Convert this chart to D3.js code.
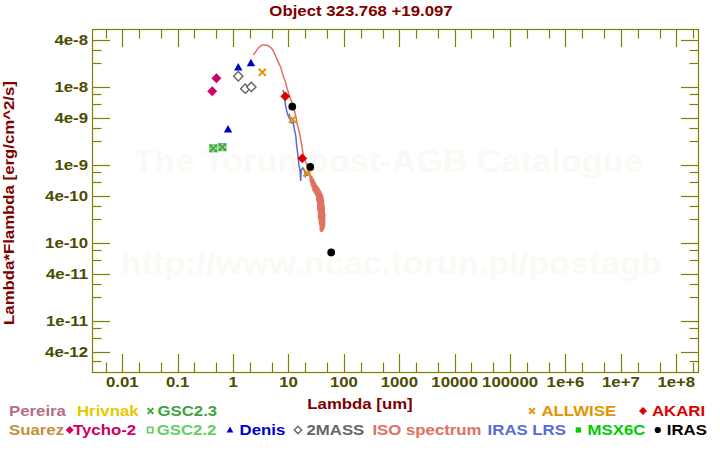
<!DOCTYPE html>
<html>
<head>
<meta charset="utf-8">
<script src="https://cdn.jsdelivr.net/npm/d3@7/dist/d3.min.js"></script>
<style>
  html, body { margin: 0; padding: 0; background: #ffffff; }
  svg { display: block; }
  text { font-family: "Liberation Sans", Arial, Helvetica, sans-serif; font-weight: bold; }
</style>
</head>
<body>
<div id="chart"></div>
<script>
// ---------------- DATA ----------------
const chartTitle = "Object 323.768 +19.097";
const xAxisTitle = "Lambda [um]";
const yAxisTitle = "Lambda*Flambda [erg/cm^2/s]";

const xTickValues = [0.01, 0.1, 1, 10, 100, 1000, 10000, 100000, 1e6, 1e7, 1e8];
const xTickLabels = ["0.01", "0.1", "1", "10", "100", "1000", "10000", "100000", "1e+6", "1e+7", "1e+8"];
const yTickValues = [4e-8, 1e-8, 4e-9, 1e-9, 4e-10, 1e-10, 4e-11, 1e-11, 4e-12];
const yTickLabels = ["4e-8", "1e-8", "4e-9", "1e-9", "4e-10", "1e-10", "4e-11", "1e-11", "4e-12"];

// photometry (wavelength in um, lambda*F_lambda in erg/cm^2/s)
const tycho2Lambda = [0.42, 0.50];
const tycho2Flux   = [8.8e-9, 1.29e-8];
const gsc22Lambda  = [0.44, 0.64];
const gsc22Flux    = [1.63e-9, 1.69e-9];
const gsc23Lambda  = [0.44, 0.64];
const gsc23Flux    = [1.63e-9, 1.69e-9];
const denisLambda  = [0.81, 1.24, 2.1];
const denisFlux    = [2.85e-9, 1.78e-8, 2.01e-8];
const twoMassLambda = [1.24, 1.66, 2.13];
const twoMassFlux   = [1.37e-8, 9.5e-9, 1.0e-8];
const allwiseLambda = [3.36, 11.9, 21.6];
const allwiseFlux   = [1.54e-8, 3.84e-9, 7.9e-10];
const akariLambda  = [8.75, 17.7];
const akariFlux    = [7.57e-9, 1.21e-9];
const irasLambda   = [11.7, 24.7, 59];
const irasFlux     = [5.6e-9, 9.4e-10, 7.5e-11];

// ISO spectrum
const isoLambda = [2.32, 2.48, 2.65, 2.83, 3.03, 3.28, 3.50, 3.80, 4.15, 4.51, 4.97, 5.31, 5.68, 5.94,
  6.30, 6.70, 7.23, 7.60, 8.00, 8.30, 8.65, 9.00, 9.40, 9.90, 10.4, 10.9, 11.4, 12.0, 12.5, 13.1,
  13.7, 14.4, 15.2, 16.1, 17.0, 18.0, 18.9, 19.8, 20.6, 21.5, 22.6, 23.7, 24.3, 24.8, 25.3, 25.8,
  26.3, 26.8, 27.3, 27.8, 28.4, 29.0, 29.6, 30.2, 30.8, 31.4, 32.0, 32.6, 33.2, 33.8, 34.4, 35.0,
  35.6, 36.2, 36.8, 37.4, 38.0, 38.6, 39.2, 39.8, 40.4, 41.0, 41.6, 42.2, 42.8, 43.4, 44.0, 44.6, 45.2];
const isoFlux = [2.56e-8, 2.75e-8, 2.92e-8, 3.13e-8, 3.28e-8, 3.42e-8, 3.45e-8, 3.46e-8, 3.42e-8, 3.28e-8,
  3.13e-8, 2.90e-8, 2.64e-8, 2.44e-8, 2.22e-8, 2.00e-8, 1.79e-8, 1.58e-8, 1.40e-8, 1.30e-8, 1.22e-8,
  1.08e-8, 9.6e-9, 8.7e-9, 7.7e-9, 7.0e-9, 6.45e-9, 5.6e-9, 5.1e-9, 4.67e-9, 4.0e-9, 3.3e-9, 2.85e-9,
  2.4e-9, 1.95e-9, 1.5e-9, 1.3e-9, 1.15e-9, 1.08e-9, 1.0e-9, 9.8e-10, 9.5e-10,
  7.6e-10, 6.0e-10, 7.4e-10, 5.4e-10, 7.2e-10, 5.0e-10, 6.8e-10, 4.6e-10, 6.6e-10, 4.4e-10, 6.2e-10,
  4.2e-10, 5.8e-10, 4.0e-10, 5.6e-10, 3.4e-10, 5.4e-10, 2.6e-10, 5.2e-10, 2.0e-10, 5.0e-10, 1.7e-10,
  4.8e-10, 1.45e-10, 4.6e-10, 1.38e-10, 4.4e-10, 1.38e-10, 4.2e-10, 1.4e-10, 4.0e-10, 1.45e-10,
  3.6e-10, 1.5e-10, 3.0e-10, 1.6e-10, 2.4e-10];

// IRAS LRS spectrum
const lrsLambda = [7.9, 8.3, 8.6, 8.8, 9.2, 9.6, 10.1, 10.4, 10.8, 11.4, 12.2, 12.6, 13.1, 13.6, 14.0,
  14.4, 15.0, 15.4, 16.1, 16.6, 17.0, 18.2, 19.3, 20.3, 21.3, 22.0];
const lrsFlux = [9.1e-9, 8.3e-9, 7.4e-9, 5.85e-9, 5.05e-9, 4.5e-9, 4.1e-9, 4.35e-9, 3.76e-9, 3.44e-9,
  3.54e-9, 2.96e-9, 2.64e-9, 2.28e-9, 1.8e-9, 1.55e-9, 1.22e-9, 9.9e-10, 8.6e-10, 6.2e-10, 8.6e-10,
  9.1e-10, 8.6e-10, 7.2e-10, 7.85e-10, 7.2e-10];

// legend
const legendNames  = ["Pereira", "Hrivnak", "GSC2.3", "ALLWISE", "AKARI",
                      "Suarez", "Tycho-2", "GSC2.2", "Denis", "2MASS", "ISO spectrum", "IRAS LRS", "MSX6C", "IRAS"];
const legendColors = ["#b0708a", "#e8c800", "#3fa43f", "#e39400", "#dd0000",
                      "#c48f3c", "#cc0066", "#66cc66", "#0000cc", "#666666", "#e07060", "#5a6ad6", "#00cc00", "#000000"];
const legendSymbols = ["none", "none", "x", "x", "diamond",
                       "none", "diamond", "osquare", "triangle", "odiamond", "none", "none", "square", "circle"];

const watermark1 = "The Torun post-AGB Catalogue";
const watermark2 = "http://www.ncac.torun.pl/postagb";

// ---------------- LAYOUT ----------------
const W = 720, H = 450;
const plot = { left: 92, right: 699, top: 29, bottom: 372 };
const FONT = 15, STRETCH = 1.12;
const titleColor = "#800000", tickLabelColor = "#4c4c00", axisColor = "#808000";

const svg = d3.select("#chart").append("svg").attr("width", W).attr("height", H);

const x = d3.scaleLog().domain([Math.pow(10, -2.547), Math.pow(10, 8.41)]).range([plot.left, plot.right]);
const y = d3.scaleLog().domain([Math.pow(10, -11.658), Math.pow(10, -7.257)]).range([plot.bottom, plot.top]);

function addText(g, tx, ty, str, anchor, color, size, rot) {
  return g.append("text")
    .attr("transform", `translate(${tx},${ty})` + (rot ? ` rotate(${rot})` : "") + ` scale(${STRETCH},1)`)
    .attr("text-anchor", anchor)
    .attr("fill", color)
    .style("font-size", (size || FONT) + "px")
    .text(str);
}

// watermark
addText(svg, 388, 172, watermark1, "middle", "#faf9f4", 30.6);
addText(svg, 391, 274, watermark2, "middle", "#faf9f4", 30.6);

// title
addText(svg, 361, 16, chartTitle, "middle", titleColor);

// frame
svg.append("rect")
  .attr("x", plot.left + 0.5).attr("y", plot.top + 0.5)
  .attr("width", plot.right - plot.left - 1).attr("height", plot.bottom - plot.top)
  .attr("fill", "none").attr("stroke", axisColor).attr("stroke-width", 1.2);

// ticks
const tickG = svg.append("g").attr("stroke", axisColor).attr("stroke-width", 1.2);
const [xl0, xl1] = x.domain().map(Math.log10);
const xMinor = [];
for (let e = Math.floor(xl0); e <= Math.ceil(xl1); e++) {
  [1, 2, 5].forEach(m => {
    const v = m * Math.pow(10, e);
    if (v >= x.domain()[0] && v <= x.domain()[1]) xMinor.push({ v, major: m === 1 });
  });
}
xMinor.forEach(d => {
  const px = Math.round(x(d.v)) + 0.5;
  const len = d.major ? 18 : 9.5;
  tickG.append("line").attr("x1", px).attr("x2", px).attr("y1", plot.bottom).attr("y2", plot.bottom - len);
  tickG.append("line").attr("x1", px).attr("x2", px).attr("y1", plot.top).attr("y2", plot.top + len);
});
const [yl0, yl1] = y.domain().map(Math.log10);
const yMinor = [];
for (let e = Math.floor(yl0); e <= Math.ceil(yl1); e++) {
  [1, 2, 3, 4, 6, 8].forEach(m => {
    const v = m * Math.pow(10, e);
    if (v >= y.domain()[0] && v <= y.domain()[1]) yMinor.push({ v, major: m === 1 || m === 4 });
  });
}
yMinor.forEach(d => {
  const py = Math.round(y(d.v)) + 0.5;
  const len = d.major ? 18 : 9.5;
  tickG.append("line").attr("x1", plot.left).attr("x2", plot.left + len).attr("y1", py).attr("y2", py);
  tickG.append("line").attr("x1", plot.right).attr("x2", plot.right - len).attr("y1", py).attr("y2", py);
});

// tick labels
xTickValues.forEach((v, i) => addText(svg, x(v), 387, xTickLabels[i], "middle", tickLabelColor));
yTickValues.forEach((v, i) => addText(svg, 88, y(v) + 5, yTickLabels[i], "end", tickLabelColor));

// axis titles
addText(svg, 360, 409, xAxisTitle, "middle", titleColor);
addText(svg, 14, 203, yAxisTitle, "middle", titleColor, FONT, -90);

// ---------------- SYMBOLS ----------------
function drawSymbol(g, type, cx, cy, color, s) {
  s = s || 1;
  if (type === "diamond" || type === "odiamond") {
    const r = 4.7 * s;
    g.append("path").attr("d", `M${cx},${cy - r}L${cx + r},${cy}L${cx},${cy + r}L${cx - r},${cy}Z`)
      .attr("fill", type === "diamond" ? color : "#fff")
      .attr("stroke", color).attr("stroke-width", type === "diamond" ? 0.5 : 1.4);
  } else if (type === "triangle") {
    const hw = 4.2 * s;
    g.append("path").attr("d", `M${cx},${cy - 4.5 * s}L${cx + hw},${cy + 3 * s}L${cx - hw},${cy + 3 * s}Z`)
      .attr("fill", color);
  } else if (type === "x") {
    const r = 3.6 * s;
    g.append("path").attr("d", `M${cx - r},${cy - r}L${cx + r},${cy + r}M${cx - r},${cy + r}L${cx + r},${cy - r}`)
      .attr("stroke", color).attr("stroke-width", 2).attr("fill", "none");
  } else if (type === "osquare") {
    const r = 3.3 * s;
    g.append("rect").attr("x", cx - r).attr("y", cy - r).attr("width", 2 * r).attr("height", 2 * r)
      .attr("fill", "none").attr("stroke", color).attr("stroke-width", 1.6);
  } else if (type === "square") {
    const r = 3.3 * s;
    g.append("rect").attr("x", cx - r).attr("y", cy - r).attr("width", 2 * r).attr("height", 2 * r)
      .attr("fill", color);
  } else if (type === "circle") {
    g.append("circle").attr("cx", cx).attr("cy", cy).attr("r", 3.9 * s).attr("fill", color);
  }
}

// ---------------- SPECTRA ----------------
const plotG = svg.append("g");
const line = d3.line().x(d => x(d[0])).y(d => y(d[1]));
const lrsData = lrsLambda.map((l, i) => [l, lrsFlux[i]]);
const isoData = isoLambda.map((l, i) => [l, isoFlux[i]]);
plotG.append("path").datum(lrsData).attr("d", line)
  .attr("fill", "none").attr("stroke", legendColors[11]).attr("stroke-width", 1.5);
plotG.append("path").datum(isoData).attr("d", line)
  .attr("fill", "none").attr("stroke", legendColors[10]).attr("stroke-width", 1.5);

// ---------------- PHOTOMETRY ----------------
const photSeries = [
  { lam: gsc22Lambda, flux: gsc22Flux, idx: 7 },
  { lam: gsc23Lambda, flux: gsc23Flux, idx: 2 },
  { lam: tycho2Lambda, flux: tycho2Flux, idx: 6 },
  { lam: denisLambda, flux: denisFlux, idx: 8 },
  { lam: twoMassLambda, flux: twoMassFlux, idx: 9 },
  { lam: allwiseLambda, flux: allwiseFlux, idx: 3 },
  { lam: akariLambda, flux: akariFlux, idx: 4 },
  { lam: irasLambda, flux: irasFlux, idx: 13 }
];
photSeries.forEach(s => {
  s.lam.forEach((l, i) => {
    drawSymbol(plotG, legendSymbols[s.idx], x(l), y(s.flux[i]), legendColors[s.idx], 1);
  });
});

// ---------------- LEGEND ----------------
const legendLayout = [
  { idx: 0, tx: 9, row: 0 }, { idx: 1, tx: 77, row: 0 }, { idx: 2, mx: 150.5, tx: 157.5, row: 0 },
  { idx: 3, mx: 532, tx: 541.5, row: 0 }, { idx: 4, mx: 643, tx: 652, row: 0 },
  { idx: 5, tx: 9, row: 1 }, { idx: 6, mx: 69.7, tx: 73, row: 1 }, { idx: 7, mx: 150.2, tx: 156.7, row: 1 },
  { idx: 8, mx: 230, tx: 239.6, row: 1 }, { idx: 9, mx: 298, tx: 306.5, row: 1 },
  { idx: 10, tx: 372.4, row: 1 }, { idx: 11, tx: 487.6, row: 1 }, { idx: 12, mx: 578.3, tx: 587.6, row: 1 },
  { idx: 13, mx: 657.8, tx: 666.8, row: 1 }
];
const rowBase = [416, 435];
const legG = svg.append("g");
legendLayout.forEach(L => {
  const sym = legendSymbols[L.idx];
  if (sym !== "none") drawSymbol(legG, sym, L.mx, rowBase[L.row] - 5, legendColors[L.idx], 0.8);
  addText(legG, L.tx, rowBase[L.row], legendNames[L.idx], "start", legendColors[L.idx]);
});
</script>
</body>
</html>
